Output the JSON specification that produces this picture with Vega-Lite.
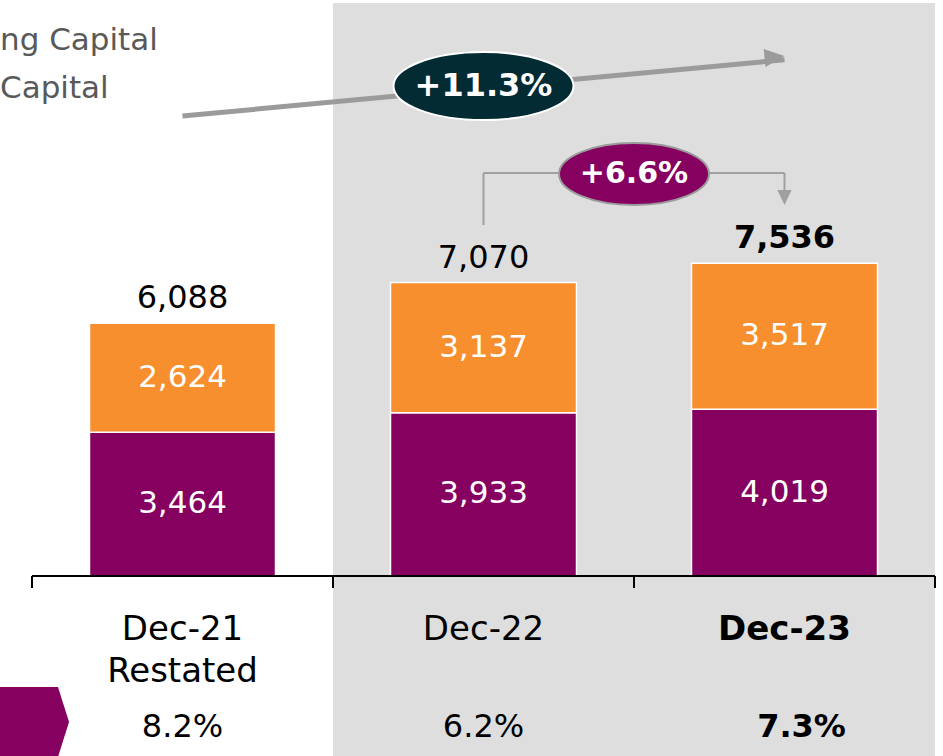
{
  "$schema": "https://vega.github.io/schema/vega-lite/v6.json",
  "width": 903,
  "height": 576,
  "autosize": {"type": "none"},
  "padding": {"left": 32, "top": 0, "right": 8, "bottom": 180},
  "background": "white",
  "config": {"view": {"stroke": null}, "text": {"font": "DejaVu Sans"}},
  "datasets": {
    "bars": [
      {"period": "Dec-21 Restated", "segment": "lower", "value": 3464},
      {"period": "Dec-21 Restated", "segment": "upper", "value": 2624},
      {"period": "Dec-22", "segment": "lower", "value": 3933},
      {"period": "Dec-22", "segment": "upper", "value": 3137},
      {"period": "Dec-23", "segment": "lower", "value": 4019},
      {"period": "Dec-23", "segment": "upper", "value": 3517}
    ],
    "periods": [
      {"period": "Dec-21 Restated", "line1": "Dec-21", "line2": "Restated", "ratio": "8.2%"},
      {"period": "Dec-22", "line1": "Dec-22", "line2": "", "ratio": "6.2%"},
      {"period": "Dec-23", "line1": "Dec-23", "line2": "", "ratio": "7.3%"}
    ],
    "shaded": [
      {"period": "Dec-22"},
      {"period": "Dec-23"}
    ],
    "growth": [
      {"label": "+11.3%", "from": "Dec-21 Restated", "via": "Dec-22", "to": "Dec-23"}
    ],
    "growth2": [
      {"label": "+6.6%", "from": "Dec-22", "to": "Dec-23"}
    ],
    "legend": [
      {"anchor": "Dec-21 Restated", "line1": "ng Capital", "line2": "Capital"}
    ]
  },
  "data": {"name": "bars"},
  "layer": [
    {
      "data": {"name": "shaded"},
      "mark": {"type": "rect", "color": "#DEDEDE"},
      "encoding": {
        "x": {"field": "period", "type": "nominal", "axis": null,
              "scale": {"domain": ["Dec-21 Restated", "Dec-22", "Dec-23"], "paddingInner": 0, "paddingOuter": 0}},
        "y": {"datum": 13807, "type": "quantitative", "scale": {"domain": [0, 13880], "nice": false, "zero": false}, "axis": null},
        "y2": {"datum": -4400}
      }
    },
    {
      "mark": {"type": "bar", "width": {"band": 0.618}, "stroke": "white", "strokeWidth": 1.5},
      "encoding": {
        "x": {"field": "period", "type": "nominal", "axis": null},
        "y": {"field": "value", "type": "quantitative", "stack": "zero", "axis": null},
        "color": {"field": "segment", "type": "nominal", "legend": null,
                  "scale": {"domain": ["lower", "upper"], "range": ["#860060", "#F78F2E"]}},
        "order": {"field": "segment", "type": "nominal", "sort": "ascending"}
      }
    },
    {
      "data": {"name": "periods"},
      "mark": {"type": "rect", "color": "#000000"},
      "encoding": {
        "x": {"field": "period", "type": "nominal", "axis": null},
        "y": {"datum": 24, "type": "quantitative"},
        "y2": {"datum": -24}
      }
    },
    {
      "data": {"name": "periods"},
      "mark": {"type": "rule", "color": "#000000", "strokeWidth": 2},
      "encoding": {
        "x": {"field": "period", "type": "nominal", "bandPosition": 0, "axis": null},
        "y": {"datum": 0, "type": "quantitative"},
        "y2": {"datum": -289}
      }
    },
    {
      "data": {"name": "periods"},
      "transform": [{"filter": "datum.period == 'Dec-23'"}],
      "mark": {"type": "rule", "color": "#000000", "strokeWidth": 2},
      "encoding": {
        "x": {"field": "period", "type": "nominal", "bandPosition": 1, "axis": null},
        "y": {"datum": 0, "type": "quantitative"},
        "y2": {"datum": -289}
      }
    },
    {
      "transform": [
        {"stack": "value", "groupby": ["period"], "sort": [{"field": "segment", "order": "ascending"}], "as": ["v0", "v1"]},
        {"calculate": "(datum.v0 + datum.v1) / 2", "as": "mid"}
      ],
      "mark": {"type": "text", "color": "white", "fontSize": 31, "baseline": "middle"},
      "encoding": {
        "x": {"field": "period", "type": "nominal", "axis": null},
        "y": {"field": "mid", "type": "quantitative"},
        "text": {"field": "value", "type": "quantitative", "format": ",d"}
      }
    },
    {
      "transform": [
        {"aggregate": [{"op": "sum", "field": "value", "as": "total"}], "groupby": ["period"]},
        {"filter": "datum.period != 'Dec-23'"}
      ],
      "mark": {"type": "text", "color": "black", "fontSize": 32, "baseline": "alphabetic", "dy": -15},
      "encoding": {
        "x": {"field": "period", "type": "nominal", "axis": null},
        "y": {"field": "total", "type": "quantitative"},
        "text": {"field": "total", "type": "quantitative", "format": ",d"}
      }
    },
    {
      "transform": [
        {"aggregate": [{"op": "sum", "field": "value", "as": "total"}], "groupby": ["period"]},
        {"filter": "datum.period == 'Dec-23'"}
      ],
      "mark": {"type": "text", "color": "black", "fontSize": 32, "fontWeight": "bold", "baseline": "alphabetic", "dy": -15},
      "encoding": {
        "x": {"field": "period", "type": "nominal", "axis": null},
        "y": {"field": "total", "type": "quantitative"},
        "text": {"field": "total", "type": "quantitative", "format": ",d"}
      }
    },
    {
      "data": {"name": "periods"},
      "transform": [{"filter": "datum.period != 'Dec-23'"}],
      "mark": {"type": "text", "color": "black", "fontSize": 34, "baseline": "alphabetic"},
      "encoding": {
        "x": {"field": "period", "type": "nominal", "axis": null},
        "y": {"datum": -1542, "type": "quantitative"},
        "text": {"field": "line1", "type": "nominal"}
      }
    },
    {
      "data": {"name": "periods"},
      "transform": [{"filter": "datum.period == 'Dec-23'"}],
      "mark": {"type": "text", "color": "black", "fontSize": 34, "fontWeight": "bold", "baseline": "alphabetic"},
      "encoding": {
        "x": {"field": "period", "type": "nominal", "axis": null},
        "y": {"datum": -1542, "type": "quantitative"},
        "text": {"field": "line1", "type": "nominal"}
      }
    },
    {
      "data": {"name": "periods"},
      "transform": [{"filter": "datum.line2 != ''"}],
      "mark": {"type": "text", "color": "black", "fontSize": 34, "baseline": "alphabetic"},
      "encoding": {
        "x": {"field": "period", "type": "nominal", "axis": null},
        "y": {"datum": -2554, "type": "quantitative"},
        "text": {"field": "line2", "type": "nominal"}
      }
    },
    {
      "data": {"name": "periods"},
      "transform": [{"filter": "datum.period != 'Dec-23'"}],
      "mark": {"type": "text", "color": "black", "fontSize": 32, "baseline": "alphabetic"},
      "encoding": {
        "x": {"field": "period", "type": "nominal", "axis": null},
        "y": {"datum": -3880, "type": "quantitative"},
        "text": {"field": "ratio", "type": "nominal"}
      }
    },
    {
      "data": {"name": "periods"},
      "transform": [{"filter": "datum.period == 'Dec-23'"}],
      "mark": {"type": "text", "color": "black", "fontSize": 32, "fontWeight": "bold", "baseline": "alphabetic", "dx": 17},
      "encoding": {
        "x": {"field": "period", "type": "nominal", "axis": null},
        "y": {"datum": -3880, "type": "quantitative"},
        "text": {"field": "ratio", "type": "nominal"}
      }
    },
    {
      "data": {"name": "legend"},
      "mark": {"type": "point", "filled": true, "opacity": 1, "color": "#860060",
               "shape": "M-5,-3.5 L2.6,-3.5 L3.7,0 L2.6,3.5 L-5,3.5 Z", "size": 400},
      "encoding": {
        "x": {"field": "anchor", "type": "nominal", "bandPosition": 0, "axis": null},
        "y": {"datum": -3518, "type": "quantitative"}
      }
    },
    {
      "data": {"name": "legend"},
      "mark": {"type": "text", "color": "#595959", "fontSize": 31, "align": "left", "baseline": "alphabetic", "dx": -32},
      "encoding": {
        "x": {"field": "anchor", "type": "nominal", "bandPosition": 0, "axis": null},
        "y": {"datum": 12675, "type": "quantitative"},
        "text": {"field": "line1", "type": "nominal"}
      }
    },
    {
      "data": {"name": "legend"},
      "mark": {"type": "text", "color": "#595959", "fontSize": 31, "align": "left", "baseline": "alphabetic", "dx": -32},
      "encoding": {
        "x": {"field": "anchor", "type": "nominal", "bandPosition": 0, "axis": null},
        "y": {"datum": 11518, "type": "quantitative"},
        "text": {"field": "line2", "type": "nominal"}
      }
    },
    {
      "data": {"name": "growth"},
      "mark": {"type": "rule", "color": "#9B9B9B", "strokeWidth": 5},
      "encoding": {
        "x": {"field": "from", "type": "nominal", "axis": null},
        "x2": {"field": "to"},
        "y": {"datum": 11084, "type": "quantitative"},
        "y2": {"datum": 12440}
      }
    },
    {
      "data": {"name": "growth"},
      "mark": {"type": "point", "filled": true, "opacity": 1, "color": "#9B9B9B",
               "shape": "M0,0 L-2,-0.9 L-2,0.9 Z", "size": 400, "angle": 354.3},
      "encoding": {
        "x": {"field": "to", "type": "nominal", "axis": null},
        "y": {"datum": 12530, "type": "quantitative"}
      }
    },
    {
      "data": {"name": "growth"},
      "mark": {"type": "point", "filled": true, "opacity": 1, "color": "#022B33", "stroke": "white", "strokeWidth": 2,
               "shape": "M-1,0 A1,0.378 0 1,1 1,0 A1,0.378 0 1,1 -1,0 Z", "size": 32400},
      "encoding": {
        "x": {"field": "via", "type": "nominal", "axis": null},
        "y": {"datum": 11807, "type": "quantitative"}
      }
    },
    {
      "data": {"name": "growth"},
      "mark": {"type": "text", "color": "white", "fontSize": 32, "fontWeight": "bold", "baseline": "middle"},
      "encoding": {
        "x": {"field": "via", "type": "nominal", "axis": null},
        "y": {"datum": 11807, "type": "quantitative"},
        "text": {"field": "label", "type": "nominal"}
      }
    },
    {
      "data": {"name": "growth2"},
      "mark": {"type": "rule", "color": "#A0A0A0", "strokeWidth": 2},
      "encoding": {
        "x": {"field": "from", "type": "nominal", "axis": null},
        "x2": {"field": "to"},
        "y": {"datum": 9711, "type": "quantitative"}
      }
    },
    {
      "data": {"name": "growth2"},
      "mark": {"type": "rule", "color": "#A0A0A0", "strokeWidth": 2},
      "encoding": {
        "x": {"field": "from", "type": "nominal", "axis": null},
        "y": {"datum": 9711, "type": "quantitative"},
        "y2": {"datum": 8458}
      }
    },
    {
      "data": {"name": "growth2"},
      "mark": {"type": "rule", "color": "#A0A0A0", "strokeWidth": 2},
      "encoding": {
        "x": {"field": "to", "type": "nominal", "axis": null},
        "y": {"datum": 9711, "type": "quantitative"},
        "y2": {"datum": 9181}
      }
    },
    {
      "data": {"name": "growth2"},
      "mark": {"type": "point", "filled": true, "opacity": 1, "color": "#A0A0A0",
               "shape": "M0,0 L-0.95,-2 L0.95,-2 Z", "size": 225},
      "encoding": {
        "x": {"field": "to", "type": "nominal", "axis": null},
        "y": {"datum": 8940, "type": "quantitative"}
      }
    },
    {
      "data": {"name": "growth2"},
      "mark": {"type": "point", "filled": true, "opacity": 1, "color": "#860060", "stroke": "#9B9B9B", "strokeWidth": 2,
               "shape": "M-1,0 A1,0.413 0 1,1 1,0 A1,0.413 0 1,1 -1,0 Z", "size": 22500},
      "encoding": {
        "x": {"field": "to", "type": "nominal", "bandPosition": 0, "axis": null},
        "y": {"datum": 9687, "type": "quantitative"}
      }
    },
    {
      "data": {"name": "growth2"},
      "mark": {"type": "text", "color": "white", "fontSize": 30, "fontWeight": "bold", "baseline": "middle"},
      "encoding": {
        "x": {"field": "to", "type": "nominal", "bandPosition": 0, "axis": null},
        "y": {"datum": 9687, "type": "quantitative"},
        "text": {"field": "label", "type": "nominal"}
      }
    }
  ]
}
